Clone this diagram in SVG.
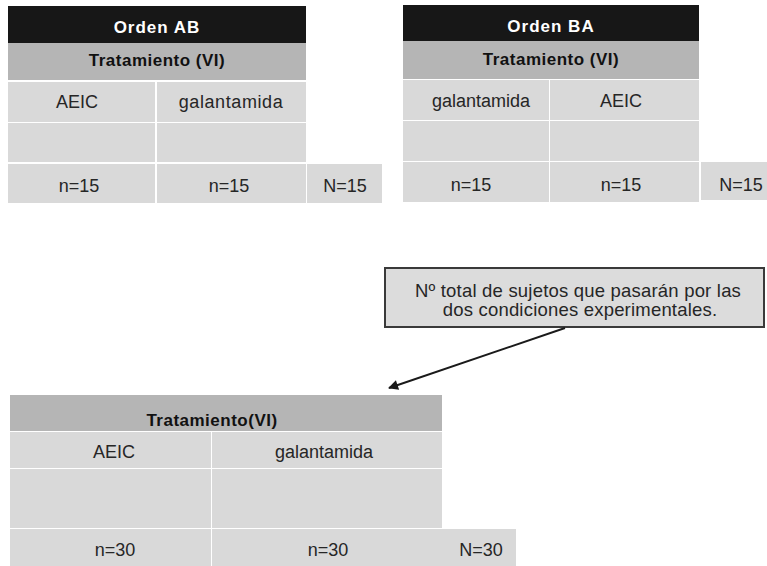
<svg xmlns="http://www.w3.org/2000/svg" width="767" height="566" viewBox="0 0 767 566">
<defs>
<style>
.blk{fill:#171717}
.hdr{fill:#b5b5b5}
.cell{fill:#d9d9d9}
.t{font-family:"Liberation Sans",Arial,sans-serif;font-size:18px;fill:#262626;text-anchor:middle}
.tb{font-family:"Liberation Sans",Arial,sans-serif;font-size:17px;font-weight:bold;fill:#111;text-anchor:middle;letter-spacing:0.5px}
.tw{fill:#fff;letter-spacing:1px}
.tn{font-size:18.5px;letter-spacing:0.2px}
</style>
<marker id="ah" viewBox="0 0 10 10" refX="9" refY="5" markerWidth="12" markerHeight="10" orient="auto" markerUnits="userSpaceOnUse">
<path d="M0,0 L10,5 L0,10 z" fill="#1a1a1a"/>
</marker>
</defs>
<rect width="767" height="566" fill="#fff"/>
<g id="tabla-AB">
<rect class="blk" x="8" y="6" width="298" height="37"/>
<rect class="hdr" x="8" y="43" width="298" height="37"/>
<rect class="cell" x="8" y="82" width="147" height="40"/>
<rect class="cell" x="157" y="82" width="149" height="40"/>
<rect class="cell" x="8" y="123" width="147" height="39"/>
<rect class="cell" x="157" y="123" width="149" height="39"/>
<rect class="cell" x="8" y="164" width="147" height="39"/>
<rect class="cell" x="157" y="164" width="149" height="39"/>
<rect class="cell" x="307" y="164" width="75" height="39"/>
<text class="tb tw" x="157" y="33">Orden AB</text>
<text class="tb" x="157" y="66">Tratamiento (VI)</text>
<text class="t" x="77" y="108">AEIC</text>
<text class="t" x="231" y="108" style="letter-spacing:0.6px">galantamida</text>
<text class="t" x="79" y="192">n=15</text>
<text class="t" x="229" y="192">n=15</text>
<text class="t" x="345" y="192">N=15</text>
</g>
<g id="tabla-BA">
<rect class="blk" x="403" y="5" width="296" height="36"/>
<rect class="hdr" x="403" y="41" width="296" height="38"/>
<rect class="cell" x="403" y="80" width="146" height="40"/>
<rect class="cell" x="550" y="80" width="149" height="40"/>
<rect class="cell" x="403" y="121" width="146" height="40"/>
<rect class="cell" x="550" y="121" width="149" height="40"/>
<rect class="cell" x="403" y="162" width="146" height="40"/>
<rect class="cell" x="550" y="162" width="149" height="40"/>
<rect class="cell" x="701" y="162" width="66" height="38"/>
<text class="tb tw" x="551" y="32">Orden BA</text>
<text class="tb" x="551" y="65">Tratamiento (VI)</text>
<text class="t" x="481" y="107">galantamida</text>
<text class="t" x="621" y="107">AEIC</text>
<text class="t" x="471" y="191">n=15</text>
<text class="t" x="621" y="191">n=15</text>
<text class="t" x="741" y="191">N=15</text>
</g>
<g id="nota">
<rect x="385" y="268" width="379" height="59" fill="#dcdcdc" stroke="#3a3a3a" stroke-width="2"/>
<text class="t tn" x="578" y="297">Nº total de sujetos que pasarán por las</text>
<text class="t tn" x="580" y="316">dos condiciones experimentales.</text>
</g>
<g id="tabla-total">
<rect class="hdr" x="10" y="395" width="432" height="36"/>
<rect class="cell" x="10" y="432" width="201" height="36"/>
<rect class="cell" x="212" y="432" width="230" height="36"/>
<rect class="cell" x="10" y="469" width="201" height="59"/>
<rect class="cell" x="212" y="469" width="230" height="59"/>
<rect class="cell" x="10" y="529" width="201" height="37"/>
<rect class="cell" x="212" y="529" width="304" height="37"/>
<text class="tb" x="212" y="426">Tratamiento(VI)</text>
<text class="t" x="114" y="458">AEIC</text>
<text class="t" x="324" y="458">galantamida</text>
<text class="t" x="115" y="556">n=30</text>
<text class="t" x="328" y="556">n=30</text>
<text class="t" x="481" y="556">N=30</text>
</g>
<g id="conectores">
<line x1="565" y1="328" x2="389" y2="388" stroke="#1a1a1a" stroke-width="2" marker-end="url(#ah)"/>
</g>
</svg>
